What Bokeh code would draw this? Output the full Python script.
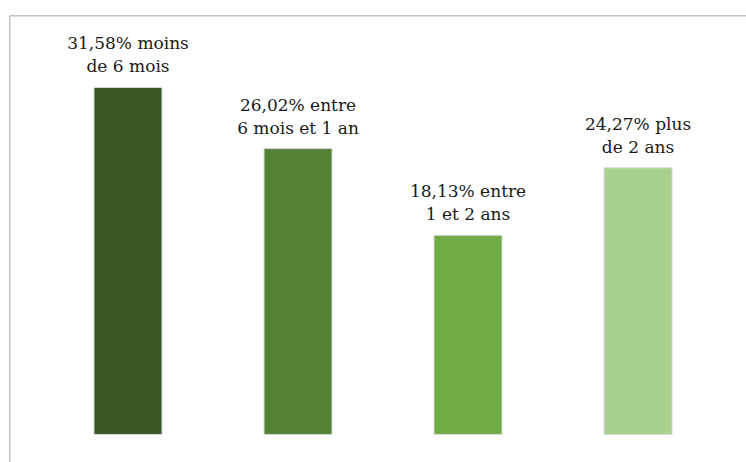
from bokeh.plotting import figure
from bokeh.models import ColumnDataSource, Range1d, Span
from bokeh.core.properties import value
from bokeh.embed import file_html
from bokeh.resources import INLINE

# Data
categories = ["moins de 6 mois", "entre 6 mois et 1 an", "entre 1 et 2 ans", "plus de 2 ans"]
percentages = [31.58, 26.02, 18.13, 24.27]
label_first = ["moins", "entre", "entre", "plus"]
label_second = ["de 6 mois", "6 mois et 1 an", "1 et 2 ans", "de 2 ans"]
colors = ["#3b5724", "#548235", "#70ad47", "#a9d18e"]

xs = list(range(len(categories)))
line1 = [f"{v:.2f}".replace(".", ",") + "% " + a for v, a in zip(percentages, label_first)]
line2 = list(label_second)

src = ColumnDataSource(dict(x=xs, top=percentages, color=colors,
                            line1=line1, line2=line2, cat=categories))

W, H = 746, 462
p = figure(width=W, height=H, output_backend="svg", toolbar_location=None,
           x_range=Range1d(-0.697, 3.638), y_range=Range1d(-2.55, 38.13),
           min_border_left=9, min_border_top=15, min_border_right=0, min_border_bottom=0)
p.xaxis.visible = False
p.yaxis.visible = False
p.grid.visible = False
p.outline_line_color = None
p.background_fill_color = "white"
p.border_fill_color = "white"

p.vbar(x="x", top="top", bottom=0, width=0.4, fill_color="color",
       line_color="#d9d9d9", line_width=1, source=src)

font = value("DejaVu Serif")
p.text(x="x", y="top", text="line1", source=src, text_align="center",
       text_baseline="alphabetic", y_offset=-44, text_font=font,
       text_font_size="17px", text_color="#1a1a1a")
p.text(x="x", y="top", text="line2", source=src, text_align="center",
       text_baseline="alphabetic", y_offset=-21, text_font=font,
       text_font_size="17px", text_color="#1a1a1a")

p.add_layout(Span(location=p.x_range.start, dimension="height", line_color="#898989", line_width=1.5))
p.add_layout(Span(location=p.y_range.end, dimension="width", line_color="#898989", line_width=1.5))

open("out.html", "w").write(file_html(p, INLINE))
